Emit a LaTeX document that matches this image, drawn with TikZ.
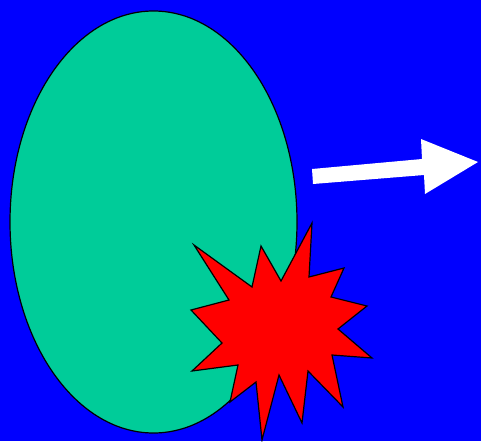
\documentclass[tikz,border=0pt]{standalone}
\begin{document}
\begin{tikzpicture}[x=1pt, y=-1pt,
        line join=miter,
        corpo/.style={draw=black, line width=1.2pt, fill={rgb,255:red,0;green,204;blue,153}},
        estrela/.style={draw=black, line width=1.2pt, fill=red},
        seta/.style={fill=white},
    ]
        % fundo
        \fill[blue] (0,0) rectangle (481,441);
        \useasboundingbox (0,0) rectangle (481,441);
        % elipse
        \draw[corpo] (153.5,222) ellipse [x radius=143.5, y radius=211];
        % seta
        \fill[seta] (312,169) -- (422,159) -- (421,139) -- (478,162)
            -- (425,194) -- (424,175) -- (313,184) -- cycle;
        % explosao
        \draw[estrela] (312,223) -- (309,277) -- (344,268) -- (331,297)
            -- (367,306) -- (338,329) -- (372,358) -- (332,355)
            -- (343,407) -- (308,371) -- (302,423) -- (279,375)
            -- (262,440) -- (256,382) -- (230,402) -- (238,365)
            -- (192,371) -- (222,343) -- (191,310) -- (229,300)
            -- (194,245) -- (252,287) -- (261,246) -- (281,281) -- cycle;
    \end{tikzpicture}
\end{document}
